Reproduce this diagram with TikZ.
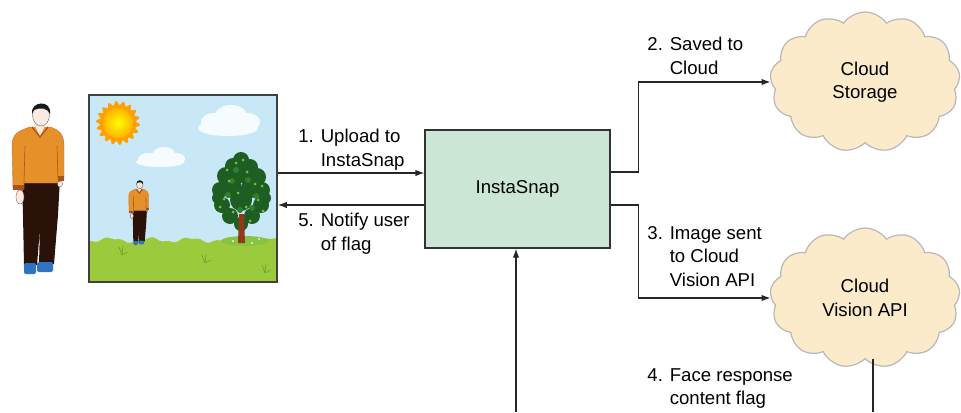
\documentclass[tikz,border=0pt]{standalone}
\usepackage{fontspec}
\setmainfont{Liberation Sans}
\usetikzlibrary{shapes.symbols,arrows.meta}

\definecolor{boxgreen}{HTML}{CCE6D5}
\definecolor{cloudtan}{HTML}{FCEBCB}
\definecolor{skyblue}{HTML}{C8E8F8}
\definecolor{grass}{HTML}{9BCB3C}
\definecolor{grassdark}{HTML}{6E9A2C}
\definecolor{shirt}{HTML}{E6902A}
\definecolor{shirtdark}{HTML}{A9521C}
\definecolor{pants}{HTML}{2B1208}
\definecolor{skin}{HTML}{FBEAE0}
\definecolor{shoe}{HTML}{2E74C0}
\definecolor{leaf}{HTML}{1F5E22}
\definecolor{leafmid}{HTML}{2F7F2F}
\definecolor{leaflight}{HTML}{7CBF45}
\definecolor{bark}{HTML}{8E3B1B}

\newcommand{\labeltext}{\fontsize{9.3}{11.8}\selectfont}
\newcommand{\hang}{\phantom{0. }}

% the man, in the coordinates of the large one
\newcommand{\drawman}{%
  % trousers
  \fill[pants] (22,178) -- (60,178) -- (58,215) -- (54,264) -- (39,264) -- (40,228) -- (37,265) -- (24,265) -- (23,215) -- cycle;
  % shoes
  \fill[shoe, rounded corners=1pt] (24,263) rectangle (36,274);
  \fill[shoe, rounded corners=1pt] (37,262) rectangle (53,272);
  % shirt
  \filldraw[fill=shirt, draw=shirtdark!80, line width=0.2pt] (13,189) -- (12,146) .. controls (12,134) and (18,131) .. (30,127) -- (50,127) .. controls (60,130) and (64,135) .. (64,146) -- (64,180) -- (58,180) -- (58,183) -- (24,183) -- (24,189) -- cycle;
  \draw[shirtdark, line width=0.3pt] (25,146) -- (24,183) (57,146) -- (58,178);
  \fill[shirtdark] (13,185) rectangle (24,190);
  \fill[shirtdark] (58,176) rectangle (64,181);
  % hands
  \filldraw[fill=skin, draw=black!60, line width=0.2pt] (20,197) ellipse (4 and 7);
  \filldraw[fill=skin, draw=black!60, line width=0.2pt] (60,184) ellipse (2.5 and 3);
  % neck, collar, head
  \fill[skin] (34,124) -- (46,124) -- (40,136) -- cycle;
  \draw[shirtdark, line width=0.6pt] (32,127) -- (40,137) -- (48,127);
  \filldraw[fill=skin, draw=black!60, line width=0.2pt] (41,115) ellipse (8.5 and 11);
  \fill[black!90] (32,114) .. controls (30,101) and (52,99) .. (50,114) .. controls (48,108) and (40,107) .. (34,110) -- cycle;
}

\begin{document}
\begin{tikzpicture}[x=0.5pt, y=-0.5pt,
  conn/.style={draw=black!85, line width=0.6pt},
  arr/.style={conn, -{Latex[length=4.5pt,width=3.2pt]}},
  lbl/.style={anchor=north west, align=left, inner sep=0pt, font=\labeltext},
  appbox/.style={draw=black!80, line width=0.6pt, fill=boxgreen, minimum width=92.5pt, minimum height=59pt, font=\labeltext},
  service/.style={cloud, cloud puffs=13, cloud puff arc=110, cloud ignores aspect, fill=cloudtan, draw=black!28, line width=0.6pt, minimum width=95pt, minimum height=70pt, align=center, font=\labeltext, inner sep=0pt},
]
\useasboundingbox (0,0) rectangle (961,412);

% user
\drawman

% photo
\begin{scope}
  \clip (89,95) rectangle (277,282);
  \fill[skyblue] (89,95) rectangle (277,282);
  % sun
  \fill[orange!75!yellow] plot[domain=0:360, samples=181, smooth] ({118+(20+2*sin(18*\x))*cos(\x)}, {123+(20+2*sin(18*\x))*sin(\x)}) -- cycle;
  \shade[inner color=yellow, outer color=orange!60!yellow] (118,123) circle (15);
  % clouds in the sky
  \fill[white, opacity=0.85] (228,128) ellipse (30 and 8) (214,122) ellipse (13 and 9) (231,116) ellipse (16 and 11) (248,122) ellipse (12 and 9);
  \fill[white, opacity=0.85] (160,162) ellipse (24 and 5) (149,159) ellipse (11 and 6) (164,154) ellipse (11 and 7) (176,159) ellipse (9 and 6);
  % grass
  \fill[grass] (89,290) -- plot[domain=89:277, samples=60, smooth] (\x, {240+2*sin(9*\x)+sin(23*\x)}) -- (277,290) -- cycle;
  \foreach \tx/\ty in {122/255, 205/263, 265/273}
    \draw[grassdark, line width=0.3pt] (\tx,\ty) -- ++(-3,-8) (\tx,\ty) -- ++(1,-9) (\tx,\ty) -- ++(6,-3);
  % tree
  \fill[leaflight!60!grass] (245,241) ellipse (24 and 5);
  \foreach \cx/\cy/\r in {241/160/8, 233/166/8, 250/167/8, 226/176/9, 257/177/9, 241/173/10,
      220/190/8, 262/190/8, 232/188/10, 251/188/10, 218/198/6, 265/198/6, 222/205/8,
      261/205/8, 241/200/11, 230/216/8, 252/216/8, 241/224/7}
    \fill[leaf] (\cx,\cy) circle (\r);
  \foreach \cx/\cy in {236/170, 248/180, 228/195, 256/196, 240/210, 232/181, 252/208}
    \fill[leafmid] (\cx,\cy) circle (3);
  \foreach \cx/\cy in {236/163, 247/172, 229/181, 255/184, 238/193, 224/199, 258/200, 246/207,
      233/212, 250/221, 243/160, 262/186, 227/170, 220/207, 263/211}
    \fill[leaflight] (\cx,\cy) circle (1.5);
  \fill[bark] (239,214) -- (244,214) -- (245,243) -- (238,243) -- cycle;
  \foreach \cx/\cy in {233/241, 252/243, 259/239}
    \fill[white] (\cx,\cy) circle (1);
  % small figure in the photo
  \begin{scope}[shift={(124.2,141)}, scale=0.38]
    \drawman
  \end{scope}
\end{scope}
\node[draw=black!75, line width=0.8pt, minimum width=94pt, minimum height=93.5pt, inner sep=0pt] (photo) at (183,188.5) {};

% app and services
\node[appbox] (box) at (517.5,189) {InstaSnap};
\node[service] (cs) at (865,82) {Cloud\\Storage};
\node[service] (cv) at (865,298) {Cloud\\Vision API};
\coordinate (feed) at (516,412);
\coordinate (flagout) at (873,412);

% connectors
\draw[arr] ([yshift=8pt]box.west -| photo.east) -- ([yshift=8pt]box.west);
\draw[arr] ([yshift=-8pt]box.west) -- ([yshift=-8pt]box.west -| photo.east);
\draw[arr] ([yshift=8.5pt]box.east) -- ++(14pt,0) |- (cs.west);
\draw[arr] ([yshift=-8pt]box.east) -- ++(14pt,0) |- (cv.west);
\draw[conn] (cv.south -| flagout) -- (flagout);
\draw[arr] (feed) -- (feed |- box.south);

% labels
\node[lbl] (l1) at (298,129) {1. Upload to\\\hang InstaSnap};
\node[lbl] (l5) at (298,213) {5. Notify user\\\hang of flag};
\node[lbl] (l2) at (647,37) {2. Saved to\\\hang Cloud};
\node[lbl] (l3) at (647,226) {3. Image sent\\\hang to Cloud\\\hang Vision API};
\node[lbl] (l4) at (647,368) {4. Face response\\\hang content flag};
\end{tikzpicture}
\end{document}
